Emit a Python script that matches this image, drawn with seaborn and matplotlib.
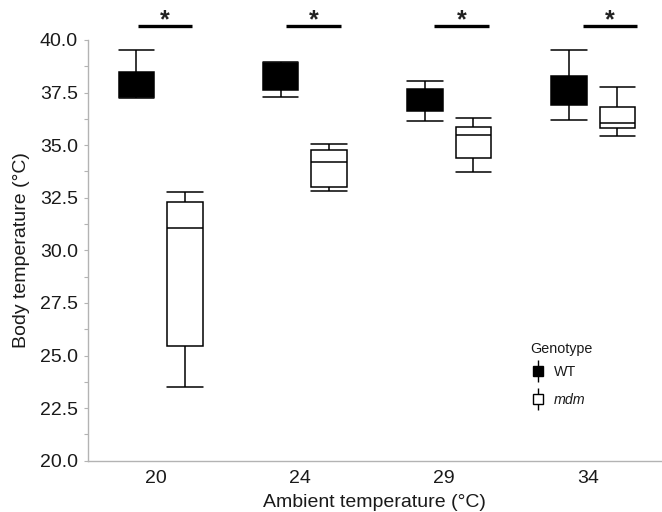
import numpy as np
import pandas as pd
import matplotlib
matplotlib.use("Agg")
import matplotlib.pyplot as plt
import seaborn as sns
from matplotlib.lines import Line2D
from matplotlib.legend_handler import HandlerTuple
from matplotlib.ticker import MultipleLocator, FormatStrFormatter

# ---------------- data ----------------
ambient = ["20", "24", "29", "34"]
genotypes = ["WT", "mdm"]

# box summaries: lower whisker, Q1, median, Q3, upper whisker
wt_low = [37.23, 37.28, 36.16, 36.21]
wt_q1 = [37.30, 37.62, 36.64, 36.91]
wt_med = [37.80, 38.20, 37.10, 37.55]
wt_q3 = [38.46, 38.89, 37.66, 38.29]
wt_high = [39.52, 38.97, 38.05, 39.52]

mdm_low = [23.52, 32.84, 33.71, 35.45]
mdm_q1 = [25.47, 33.00, 34.38, 35.80]
mdm_med = [31.05, 34.21, 35.50, 36.05]
mdm_q3 = [32.28, 34.77, 35.85, 36.81]
mdm_high = [32.79, 35.04, 36.28, 37.78]

sig_labels = ["*", "*", "*", "*"]

# ---------------- long-form table ----------------
rows = []
for g, parts in (("WT", (wt_low, wt_q1, wt_med, wt_q3, wt_high)),
                 ("mdm", (mdm_low, mdm_q1, mdm_med, mdm_q3, mdm_high))):
    for i, a in enumerate(ambient):
        for p in parts:
            rows.append({"ambient": a, "genotype": g, "temp": p[i]})
df = pd.DataFrame(rows)

# ---------------- style ----------------
sns.set_theme(style="white")
plt.rcParams["font.family"] = ["Liberation Sans", "DejaVu Sans"]
text_color = "#1a1a1a"
spine_color = "#b3b3b3"

fig = plt.figure(figsize=(6.62, 5.12), dpi=100)
ax = fig.add_axes([88 / 662, 51.3 / 512, (661 - 88) / 662, 420.7 / 512])

sns.boxplot(
    data=df, x="ambient", y="temp", hue="genotype",
    order=ambient, hue_order=genotypes,
    palette={"WT": "black", "mdm": "white"}, saturation=1,
    width=0.672, gap=0.268, whis=(0, 100),
    linecolor="black", linewidth=1.1, capwidths=0.246,
    legend=False, ax=ax,
)

ax.set_xlim(-0.504, 3.47)
ax.set_ylim(20, 40)

for s in ("top", "right"):
    ax.spines[s].set_visible(False)
for s in ("left", "bottom"):
    ax.spines[s].set_color(spine_color)
    ax.spines[s].set_linewidth(1.0)

ax.set_xticks(np.arange(len(ambient)) - 0.035, ambient)
ax.tick_params(axis="x", length=0, pad=7, labelsize=14, labelcolor=text_color)
ax.yaxis.set_major_locator(MultipleLocator(2.5))
ax.yaxis.set_minor_locator(MultipleLocator(1.25))
ax.yaxis.set_major_formatter(FormatStrFormatter("%.1f"))
ax.tick_params(axis="y", which="major", length=3.2, width=0.8, color=spine_color,
               pad=4, labelsize=14, labelcolor=text_color, left=True)
ax.tick_params(axis="y", which="minor", length=3.2, width=0.8, color=spine_color, left=True)

ax.set_xlabel("Ambient temperature (°C)", fontsize=14, color=text_color, labelpad=5)
ax.set_ylabel("Body temperature (°C)", fontsize=14, color=text_color, labelpad=7)

# significance bars
for i, lab in enumerate(sig_labels):
    xc = 0.03 + 1.029 * i
    ax.plot([xc - 0.189, xc + 0.189], [40.68, 40.68], color="black", lw=2.4,
            solid_capstyle="butt", clip_on=False)
    ax.text(xc, 40.58, lab, ha="center", va="baseline", fontsize=18,
            fontweight="bold", color="#222222", clip_on=False)

# legend
def glyph(face):
    whisk = Line2D([], [], marker="|", markersize=16, mew=1.0, color="black", ls="none")
    box = Line2D([], [], marker="s", markersize=7, mfc=face, mec="black", mew=1.0, ls="none")
    return (whisk, box)

leg = ax.legend([glyph("black"), glyph("white")], genotypes,
                loc="upper left", bbox_to_anchor=(518 / 662, 1 - 352 / 512),
                bbox_transform=fig.transFigure, frameon=False,
                fontsize=10.3,
                handler_map={tuple: HandlerTuple(ndivide=1, pad=0)},
                handlelength=1.0, handletextpad=0.6, labelspacing=0.96)
for t in leg.get_texts():
    t.set_color(text_color)
leg.get_texts()[1].set_fontstyle("italic")
fig.text(530 / 662, 1 - 349 / 512, "Genotype", ha="left", va="center",
         fontsize=10.3, color=text_color)

fig.savefig("out.png", dpi=100)
